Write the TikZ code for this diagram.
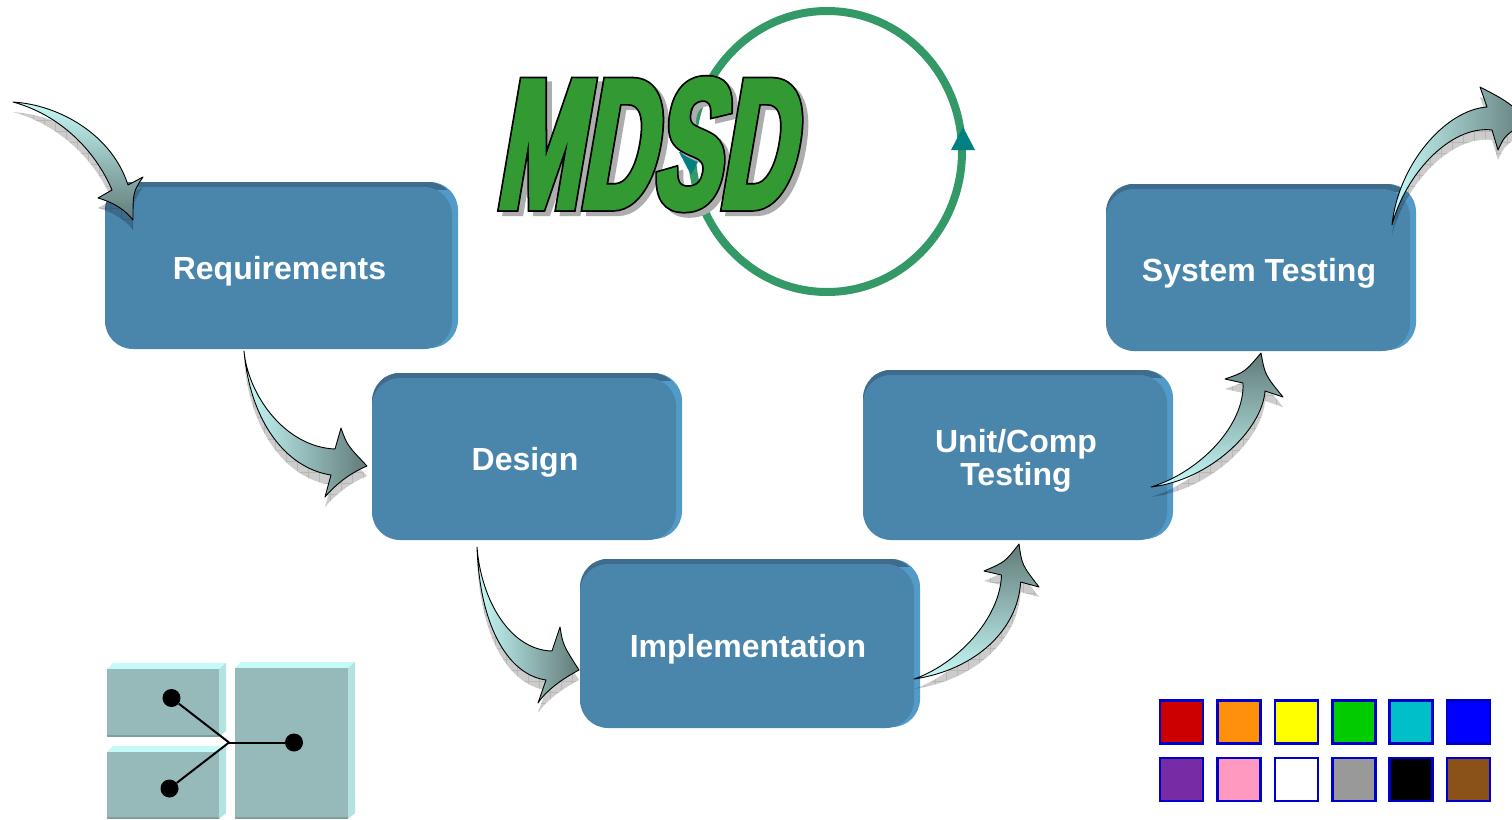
\documentclass[tikz,border=0pt]{standalone}
\usepackage{fontspec}
\setmainfont{Liberation Sans}
\newfontfamily\mdsdfont[FakeStretch=0.545,FakeSlant=0.17]{Liberation Sans Bold}
\usetikzlibrary{calc}
\definecolor{boxmain}{HTML}{4A86AC}
\definecolor{boxdark}{HTML}{3F6C8C}
\definecolor{boxlight}{HTML}{529BC8}
\definecolor{arrowlight}{HTML}{C6FAF8}
\definecolor{arrowmid}{HTML}{A4CFCE}
\definecolor{arrowdark}{HTML}{617B79}
\definecolor{ringgreen}{HTML}{339966}
\definecolor{ringteal}{HTML}{008080}
\definecolor{blockfront}{HTML}{96BABA}
\definecolor{blocktop}{HTML}{C6FAF8}
\definecolor{blockside}{HTML}{B4E2E0}
\definecolor{blockedge}{HTML}{7F9E9E}
\definecolor{swA}{HTML}{CC0000}
\definecolor{swB}{HTML}{FF9009}
\definecolor{swC}{HTML}{FFFF00}
\definecolor{swD}{HTML}{00CC00}
\definecolor{swE}{HTML}{00BFC8}
\definecolor{swF}{HTML}{0000FF}
\definecolor{swG}{HTML}{772CA6}
\definecolor{swH}{HTML}{FF99BF}
\definecolor{swI}{HTML}{FFFFFF}
\definecolor{swJ}{HTML}{999999}
\definecolor{swK}{HTML}{000000}
\definecolor{swL}{HTML}{8A5218}
\tikzset{
  flowbox/.style={fill=boxmain,rounded corners=28pt,inner sep=0pt},
  flowlabel/.style={inner sep=0pt,text=white,align=center,
    font=\bfseries\fontsize{32}{33}\selectfont},
  arrowshadow/.style={fill=black,fill opacity=.2},
  shadowgrid/.style={draw=black,draw opacity=.1,line width=.6pt,step=11pt},
  arrowline/.style={draw=black,line width=.9pt,line join=round},
  hv/.style={left color=arrowlight,middle color=arrowmid,right color=arrowdark},
  dn/.style={top color=arrowlight,middle color=arrowmid,bottom color=arrowdark},
  up/.style={bottom color=arrowlight,middle color=arrowmid,top color=arrowdark},
  linkdot/.style={circle,fill=black,minimum size=18pt,inner sep=0pt},
  linkline/.style={draw=black,line width=2pt},
  swatch/.style={draw=blue!80!black,line width=2.8pt,minimum size=43pt,inner sep=0pt},
  mdsd/.style={anchor=base west,inner sep=0pt,font=\mdsdfont\fontsize{184}{184}\selectfont}
}
% #1 name, #2 x0, #3 y0, #4 x1, #5 y1, #6 text
\newcommand{\flowboxat}[6]{%
  \fill[boxlight,rounded corners=28pt] ({#2+1},#3) rectangle (#4,{#5-1});
  \begin{scope}
    \clip (#2,#3) rectangle ({#2+32},{#3+32});
    \fill[boxdark,rounded corners=28pt] (#2,#3) rectangle (#4,#5);
  \end{scope}
  \begin{scope}
    \clip (#2,#3) rectangle ({#4-6},{#3+7});
    \fill[boxdark,rounded corners=28pt] (#2,#3) rectangle ({#4-2},#5);
  \end{scope}
  \node[flowbox,minimum width={(#4-6-#2)*1pt},minimum height={(#5-#3-5)*1pt}] (#1)
    at ({(#2+#4-6)/2},{(#3+5+#5)/2}) {};
  \node[flowlabel] (#1label) at ({(#2+#4-6)/2+1},{(#3+5+#5)/2+3}) {#6};
}
\newcommand{\blockarrow}[2]{%
  \begin{scope}[transform canvas={yshift=-10pt}]
    \fill[arrowshadow] #2;
    \begin{scope}
      \clip #2;
      \draw[shadowgrid] (0,0) grid (1540,819);
    \end{scope}
  \end{scope}
  \shade[#1] #2;
  \draw[arrowline] #2;
}
% #1 x0, #2 y0, #3 x1, #4 y1: front face, with top and side faces
\newcommand{\block}[4]{%
  \fill[blocktop] (#1,#2) -- ({#1+6},{#2-6}) -- ({#3+7},{#2-6}) -- (#3,#2) -- cycle;
  \fill[blockside] (#3,#2) -- ({#3+7},{#2-6}) -- ({#3+7},{#4-6}) -- (#3,#4) -- cycle;
  \fill[blockfront] (#1,#2) rectangle (#3,#4);
  \fill[blockedge] (#1,{#4-2}) rectangle (#3,#4);
}
\begin{document}
\begin{tikzpicture}[x=1pt,y=-1pt]
\useasboundingbox (0,0) rectangle (1512,819);
\fill[white] (0,0) rectangle (1512,819);

% ring
\draw[ringgreen,line width=8pt] (827,151.5) ellipse [x radius=135,y radius=140.5];
\fill[ringteal] (963,127) -- (975,150) -- (951,150) -- cycle;
\fill[ringteal] (691,175) -- (679,152) -- (703,152) -- cycle;

% title
\node[mdsd] (mdsdshadow) at (500,212)
  {\special{pdf:code q 2 Tr 8 w 0.68 0.68 0.68 rg 0.68 0.68 0.68 RG}MDSD\special{pdf:code Q}};
\node[mdsd] (mdsdoutline) at (495,207.5)
  {\special{pdf:code q 2 Tr 8.5 w 0 0 0 rg 0 0 0 RG}MDSD\special{pdf:code Q}};
\node[mdsd] (mdsd) at (495,207.5)
  {\special{pdf:code q 2 Tr 5 w 0.2 0.6 0.2 rg 0.2 0.6 0.2 RG}MDSD\special{pdf:code Q}};

% flow boxes
\flowboxat{req}{105}{182}{458}{349}{Requirements}
\flowboxat{des}{372}{373}{682}{540}{Design}
\flowboxat{imp}{580}{559}{920}{728}{Implementation}
\flowboxat{uni}{863}{370}{1173}{540}{Unit/Comp\\Testing}
\flowboxat{sys}{1106}{184}{1416}{351}{System Testing}

% arrow ends
\coordinate (aAt) at (13,102);    \coordinate (aAh) at (133,220);
\coordinate (aBt) at (244,351);   \coordinate (aBh) at (367,466);
\coordinate (aCt) at (477,547);   \coordinate (aCh) at (579,670);
\coordinate (aDt) at (914,679);   \coordinate (aDh) at (1019,544);
\coordinate (aEt) at (1151,487);  \coordinate (aEh) at (1261,353);
\coordinate (aFt) at (1392,225);  \coordinate (aFh) at (1530,120);

\blockarrow{dn}{(aAt) .. controls (60,105) and (112,135) .. (128,185) -- (143,177)
  .. controls (133,192) .. (aAh) .. controls (125,210) and (115,203) .. (98,198)
  -- (112,190) .. controls (95,150) and (60,115) .. (aAt) -- cycle}
\blockarrow{hv}{(aBt) .. controls (248,395) and (285,447) .. (335,449) -- (341,428)
  .. controls (347,445) .. (aBh) .. controls (350,473) and (335,485) .. (325,497)
  -- (331,475) .. controls (285,468) and (250,420) .. (aBt) -- cycle}
\blockarrow{hv}{(aCt) .. controls (481,600) and (510,650) .. (552,651) -- (560,627)
  .. controls (563,645) .. (aCh) .. controls (560,680) and (545,692) .. (538,703)
  -- (546,680) .. controls (510,675) and (480,630) .. (aCt) -- cycle}
\blockarrow{up}{(aDt) .. controls (955,665) and (1000,620) .. (1001.5,575) -- (984,571)
  .. controls (1005,562) .. (aDh) .. controls (1022,565) .. (1039,587)
  -- (1020.6,582) .. controls (1018,630) and (975,670) .. (aDt) -- cycle}
\blockarrow{up}{(aEt) .. controls (1200,472) and (1245,425) .. (1243,383) -- (1225,379)
  .. controls (1245,372) .. (aEh) .. controls (1265,375) .. (1283,397)
  -- (1265,391) .. controls (1262,430) and (1210,480) .. (aEt) -- cycle}
\blockarrow{hv}{(aFt) .. controls (1398,165) and (1445,110) .. (1487,107) -- (1480,87)
  .. controls (1505,100) .. (aFh) .. controls (1505,135) .. (1498,150)
  -- (1492,130) .. controls (1450,125) and (1405,175) .. (aFt) -- cycle}

% link icon
\block{107}{669}{219}{737}
\block{107}{752}{219}{819}
\block{235}{668}{348}{819}
\node[linkdot] (dotA) at (171.5,698) {};
\node[linkdot] (dotB) at (169.5,788.5) {};
\node[linkdot] (dotC) at (294,742.5) {};
\coordinate (hub) at (229,742.5);
\draw[linkline] (dotA) -- (hub);
\draw[linkline] (dotB) -- (hub);
\draw[linkline] (dotC) -- (hub);

% palette
\foreach \n/\c/\x/\y in {a/swA/1181.5/722,b/swB/1239/722,c/swC/1296.5/722,d/swD/1354/722,e/swE/1411/722,f/swF/1468.5/722,
  g/swG/1181.5/779.5,h/swH/1239/779.5,i/swI/1296.5/779.5,j/swJ/1354/779.5,k/swK/1411/779.5,l/swL/1468.5/779.5}
  \node[swatch,fill=\c] (sw\n) at (\x,\y) {};
\end{tikzpicture}
\end{document}
